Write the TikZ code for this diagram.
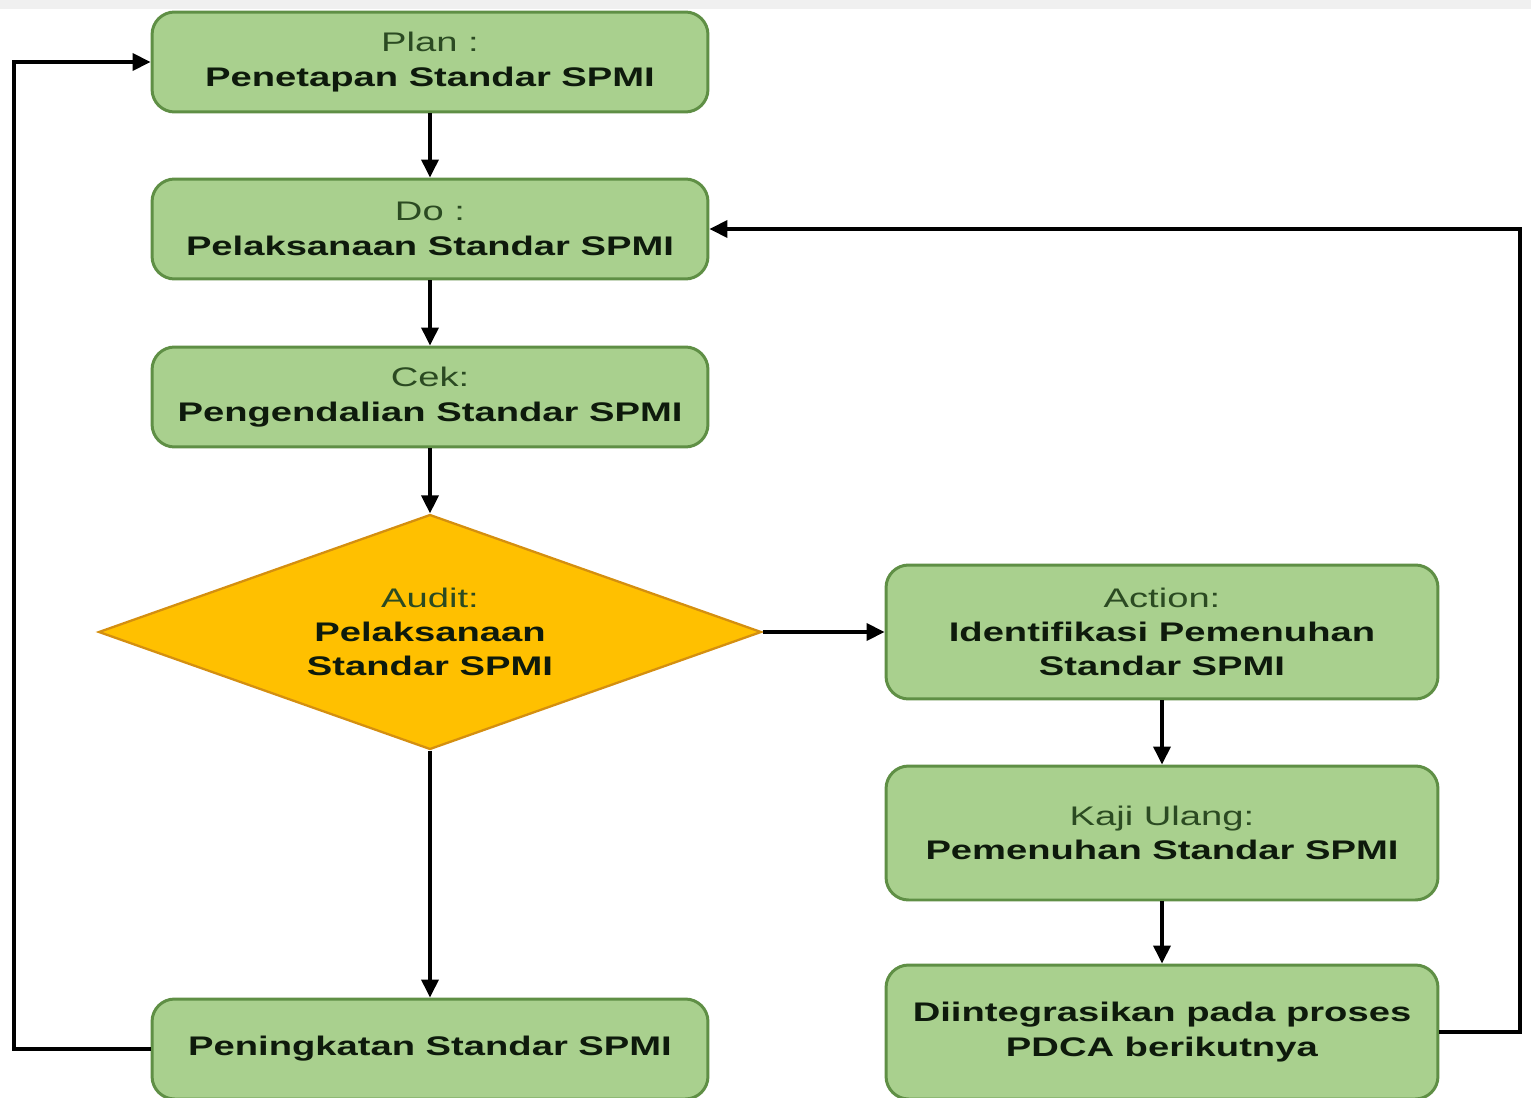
\documentclass[tikz,border=0pt]{standalone}
\usepackage{fontspec}
\setmainfont{Liberation Sans}[FakeStretch=1.42]
\usetikzlibrary{arrows.meta,shapes.geometric}

\definecolor{boxfill}{HTML}{A9D08E}
\definecolor{boxline}{HTML}{5F8F45}
\definecolor{auditfill}{HTML}{FFC000}
\definecolor{auditline}{HTML}{D48F10}
\definecolor{headtext}{HTML}{2B4A22}
\definecolor{maintext}{HTML}{0E1A0C}

\tikzset{
  box/.style={draw=boxline, fill=boxfill, line width=1.7pt, rounded corners=0.45cm,
    minimum width=11.12cm, minimum height=2cm, align=center, inner sep=0pt,
    font=\fontsize{15.3}{19.5}\selectfont, text=maintext},
  tallbox/.style={box, minimum width=11.04cm, minimum height=2.68cm},
  audit/.style={diamond, draw=auditline, fill=auditfill, line width=1.3pt,
    minimum width=13.26cm, minimum height=4.7cm, aspect=2.8, align=center,
    inner sep=0pt, font=\fontsize{15.3}{19.5}\selectfont, text=maintext},
  line/.style={line width=2.1pt, -{Triangle[length=0.36cm,width=0.34cm]}}
}
\newcommand{\head}[1]{{\color{headtext}#1}}

\begin{document}
\begin{tikzpicture}[x=0.02cm,y=-0.02cm]
    \useasboundingbox (0,0) rectangle (1531,1098);
    \fill[gray!12] (0,0) rectangle (1531,9);
    % left column
    \node[box] (plan) at (430,62) {\head{Plan :}\\ \textbf{Penetapan Standar SPMI}};
    \node[box] (do) at (430,229) {\head{Do :}\\ \textbf{Pelaksanaan Standar SPMI}};
    \node[box] (cek) at (430,397) {\head{Cek:}\\ \textbf{Pengendalian Standar SPMI}};
    \node[audit] (audit) at (430,632)
      {\head{Audit:}\\ \textbf{Pelaksanaan}\\ \textbf{Standar SPMI}};
    \node[box] (naik) at (430,1049) {\textbf{Peningkatan Standar SPMI}};
    % right column
    \node[tallbox] (action) at (1162,632)
      {\head{Action:}\\ \textbf{Identifikasi Pemenuhan}\\ \textbf{Standar SPMI}};
    \node[tallbox] (kaji) at (1162,833) {\head{Kaji Ulang:}\\ \textbf{Pemenuhan Standar SPMI}};
    \node[tallbox] (integrasi) at (1162,1032)
      {\textbf{Diintegrasikan pada proses}\\ \textbf{PDCA berikutnya}};
    \coordinate (kiri) at (14,62);
    \coordinate (kanan) at (1520,229);

    \draw[line] (plan) -- (do);
    \draw[line] (do) -- (cek);
    \draw[line] (cek) -- (audit);
    \draw[line] (audit) -- (action);
    \draw[line] (audit) -- (naik);
    \draw[line] (action) -- (kaji);
    \draw[line] (kaji) -- (integrasi);
    % loops back
    \draw[line] (naik.west) -| (kiri) -- (plan.west);
    \draw[line] (integrasi.east) -| (kanan) -- (do.east);
\end{tikzpicture}
\end{document}
